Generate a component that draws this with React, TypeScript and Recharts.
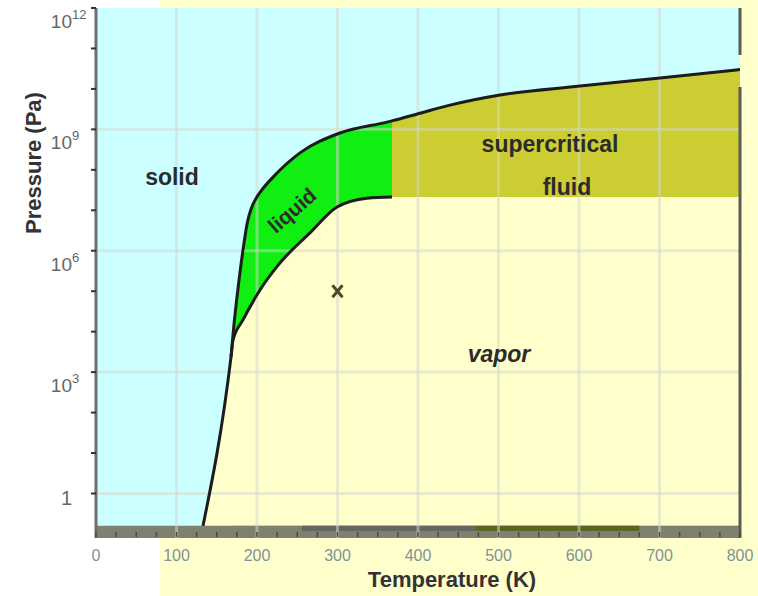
import React from 'react';
import {
  ComposedChart,
  Area,
  Line,
  XAxis,
  YAxis,
  CartesianGrid,
  ReferenceLine,
  ReferenceArea,
  ReferenceDot,
  Scatter,
} from 'recharts';

// ---- data (T in K, log10 of pressure in Pa) ----
const meltT = [167.7, 171, 176, 182.6, 188, 193, 199, 204, 219.9, 253.4, 303.1, 361.5, 367.7, 402.5, 439.8, 501.9, 601.2, 700.6, 800];
const meltLogP = [3.37, 4.1, 5.0, 6.02, 6.7, 7.05, 7.3, 7.45, 7.82, 8.42, 8.91, 9.18, 9.21, 9.4, 9.6, 9.85, 10.07, 10.27, 10.48];

// sublimation line (first two points) followed by the vaporisation curve
const vapT = [132.9, 167.7, 170.2, 182.6, 203.7, 228.6, 265.8, 299.4, 336.6, 367.7];
const vapLogP = [-0.8, 3.37, 3.79, 4.29, 5.03, 5.7, 6.44, 7.08, 7.3, 7.33];

const criticalT = 367.7;
const criticalLogP = 7.33;
const maxT = 800;

const tempMajorTicks = [0, 100, 200, 300, 400, 500, 600, 700, 800];
const tempMinorTicks = [0, 25, 50, 75, 100, 125, 150, 175, 200, 225, 250, 275, 300, 325, 350, 375, 400, 425, 450, 475, 500, 525, 550, 575, 600, 625, 650, 675, 700, 725, 750, 775, 800];
const decadeTicks = [0, 1, 2, 3, 4, 5, 6, 7, 8, 9, 10, 11, 12];
const labeledDecades = [0, 3, 6, 9, 12];
const gridDecades = [0, 3, 6, 9];

const regionNames = ['solid', 'supercritical', 'fluid', 'vapor', 'liquid'];
const regionT = [94.4, 564, 585, 500.6, 243.5];
const regionLogP = [7.82, 8.64, 7.59, 3.46, 7.0];

const markerPoints = [{ T: 300, logP: 5 }];

// ---- tables built from the arrays ----
const meltData = meltT.map((T, i) => ({ T, logP: meltLogP[i] }));
const superData = meltData.filter((d) => d.T >= criticalT);
const vapLineData = vapT.map((T, i) => ({ T, logP: vapLogP[i] }));
const vaporRegionData = [...vapLineData, { T: maxT, logP: criticalLogP }];

const SOLID = '#ccffff';
const VAPOR = '#ffffcc';
const LIQUID = '#11ee11';
const SUPER = '#cccc33';
const CURVE = '#1c1c1c';
const TEXT = '#2b2b2b';
const GRID = 'rgba(212,216,206,0.5)';

const YTick = (props: any) => {
  const { x, y, payload } = props;
  const v = payload.value;
  if (!labeledDecades.includes(v)) return null;
  const right = x - 17;
  if (v === 0) {
    return (
      <text x={right} y={y + 12} textAnchor="end" fontSize={20} fill="#666">
        1
      </text>
    );
  }
  return (
    <g fill="#666">
      <text x={right} y={y + 20} textAnchor="end" fontSize={19}>
        10
      </text>
      <text x={right} y={y + 11} textAnchor="start" fontSize={13}>
        {v}
      </text>
    </g>
  );
};

const XTick = (props: any) => {
  const { x, y, payload } = props;
  const v = payload.value;
  return (
    <g>
      <line x1={x} x2={x} y1={y - 6} y2={y - 1} stroke="#4a4a44" strokeWidth={1.5} />
      {tempMajorTicks.includes(v) && (
        <text x={x} y={y + 23} textAnchor="middle" fontSize={16} fill="#7f929a">
          {v}
        </text>
      )}
    </g>
  );
};

const Cross = (props: any) => {
  const { cx, cy } = props;
  return (
    <g stroke="#4b4b2b" strokeWidth={3}>
      <line x1={cx - 5} y1={cy - 6} x2={cx + 5} y2={cy + 6} />
      <line x1={cx - 5} y1={cy + 6} x2={cx + 5} y2={cy - 6} />
    </g>
  );
};

export default function App() {
  return (
    <div style={{ position: 'fixed', left: 0, top: 0, width: 758, height: 596, background: '#ffffff' }}>
      <div style={{ position: 'absolute', left: 160, top: 0, right: 0, bottom: 0, background: VAPOR }} />
      <div style={{ position: 'absolute', left: 0, top: 0 }}>
        <ComposedChart
          width={758}
          height={596}
          margin={{ top: 8, right: 18, bottom: 0, left: 0 }}
          style={{ fontFamily: '"Liberation Sans", Arial, sans-serif' }}
        >
          <CartesianGrid fill={SOLID} horizontal={false} vertical={false} />
          <XAxis
            type="number"
            dataKey="T"
            domain={[0, maxT]}
            ticks={tempMinorTicks}
            interval={0}
            height={58}
            axisLine={false}
            tickLine={false}
            tickSize={0}
            tickMargin={0}
            tick={<XTick />}
            allowDataOverflow
            label={{
              value: 'Temperature (K)',
              position: 'center',
              dx: 34,
              dy: 12,
              fontSize: 22,
              fontWeight: 'bold',
              fill: '#333',
            }}
          />
          <YAxis
            type="number"
            domain={[-1.1, 12]}
            ticks={decadeTicks}
            interval={0}
            width={96}
            axisLine={{ stroke: '#6e6e6e', strokeWidth: 3 }}
            tickLine={{ stroke: '#333', strokeWidth: 2 }}
            tickSize={5}
            tickMargin={2}
            tick={<YTick />}
            allowDataOverflow
            label={{
              value: 'Pressure (Pa)',
              position: 'center',
              angle: -90,
              dx: -15,
              dy: -110,
              fontSize: 22,
              fontWeight: 'bold',
              fill: '#333',
            }}
          />

          <Area data={meltData} dataKey="logP" type="monotone" baseValue={-0.8} fill={LIQUID} fillOpacity={1} stroke="none" isAnimationActive={false} />
          <Area data={superData} dataKey="logP" type="monotone" baseValue={-0.8} fill={SUPER} fillOpacity={1} stroke="none" isAnimationActive={false} />
          <Area data={vaporRegionData} dataKey="logP" type="monotone" baseValue={-0.8} fill={VAPOR} fillOpacity={1} stroke="none" isAnimationActive={false} />

          <ReferenceArea x1={0} x2={maxT} y1={-1.1} y2={-0.8} fill="#7f8070" fillOpacity={1} stroke="none" />
          <ReferenceArea x1={256} x2={472} y1={-0.93} y2={-0.8} fill="#666660" fillOpacity={1} stroke="none" />
          <ReferenceArea x1={472} x2={675} y1={-0.93} y2={-0.8} fill="#5c6424" fillOpacity={1} stroke="none" />

          {tempMajorTicks.slice(1, -1).map((t) => (
            <ReferenceLine key={'vx' + t} x={t} stroke={GRID} strokeWidth={3} />
          ))}
          {gridDecades.map((d) => (
            <ReferenceLine key={'hy' + d} y={d} stroke={GRID} strokeWidth={3} />
          ))}

          <ReferenceLine segment={[{ x: maxT, y: 12 }, { x: maxT, y: 10.84 }]} stroke="#5a5a5a" strokeWidth={3} />
          <ReferenceLine segment={[{ x: maxT, y: 10.05 }, { x: maxT, y: -1.1 }]} stroke="#5a5a5a" strokeWidth={3} />

          <Line data={meltData} dataKey="logP" type="monotone" stroke={CURVE} strokeWidth={3} dot={false} isAnimationActive={false} />
          <Line data={vapLineData} dataKey="logP" type="monotone" stroke={CURVE} strokeWidth={3} strokeLinejoin="round" dot={false} isAnimationActive={false} />

          <Scatter data={markerPoints} dataKey="logP" shape={<Cross />} isAnimationActive={false} />

          {regionNames.map((name, i) => (
            <ReferenceDot
              key={name}
              x={regionT[i]}
              y={regionLogP[i]}
              r={0}
              fill="none"
              stroke="none"
              label={{
                value: name,
                position: 'center',
                fontSize: name === 'liquid' ? 21 : 23,
                fontWeight: 'bold',
                fontStyle: name === 'vapor' ? 'italic' : 'normal',
                angle: name === 'liquid' ? -41 : 0,
                fill: TEXT,
              }}
            />
          ))}
        </ComposedChart>
      </div>
    </div>
  );
}
